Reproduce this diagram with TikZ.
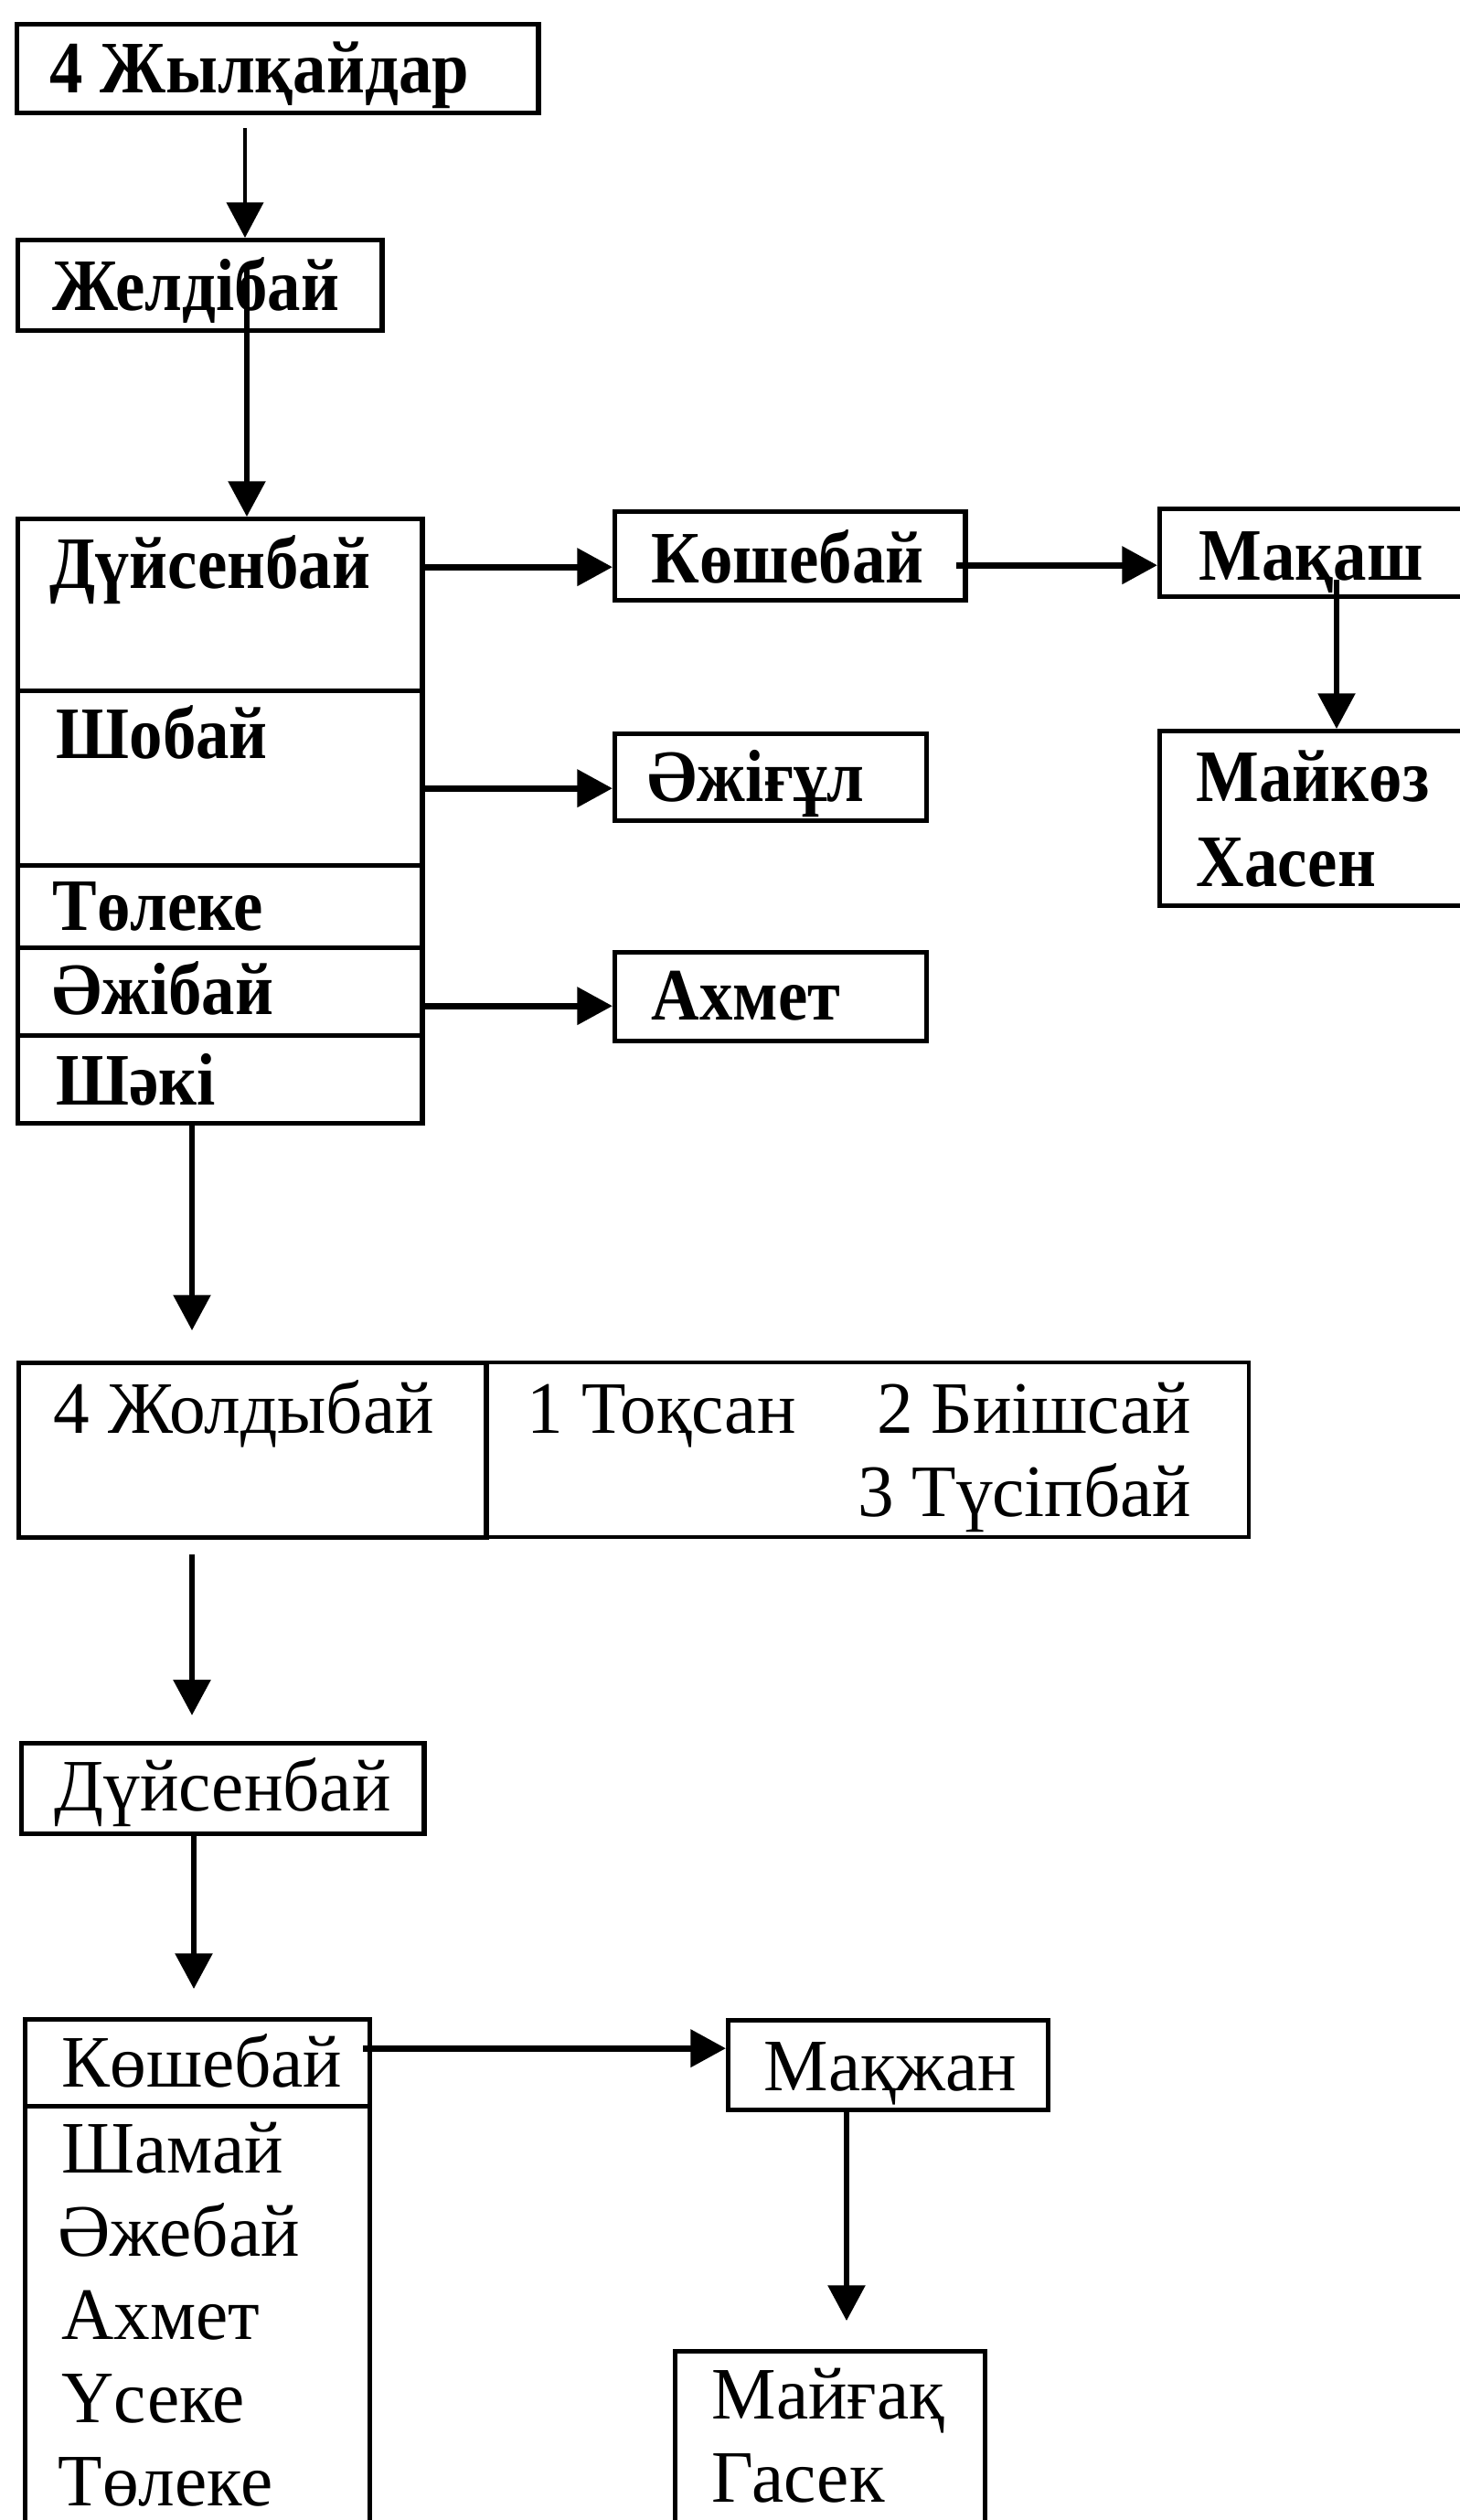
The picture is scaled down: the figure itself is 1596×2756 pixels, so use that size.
\documentclass[tikz,border=0pt]{standalone}
\usepackage{fontspec}
\setmainfont{Liberation Serif}
\newfontfamily\upfont{Liberation Serif}[FakeStretch=0.9]
\newfontfamily\lowfont{Liberation Serif}[FakeStretch=0.98]
\usetikzlibrary{arrows.meta,calc}
\begin{document}
\begin{tikzpicture}[x=0.01cm,y=-0.01cm,
  bx/.style={draw, line width=1.5pt, inner sep=0, anchor=north west},
  ut/.style={anchor=base west, inner sep=0, font=\upfont\bfseries\fontsize{23}{28}\selectfont},
  lt/.style={anchor=base west, inner sep=0, font=\lowfont\fontsize{23}{28}\selectfont},
  ltr/.style={lt, anchor=base east},
  arr/.style={line width=1.5pt, -{Triangle[length=11pt,width=11.4pt]}},
  harr/.style={line width=2pt, -{Triangle[length=11pt,width=11.4pt]}},
]
\useasboundingbox (0,0) rectangle (1596,2756);

% ---- upper part ----
\node[bx, minimum width=5.70cm, minimum height=0.97cm] (jk) at (16,24) {};
\node[ut] (jkt) at (54,101) {4 Жылқайдар};
\node[bx, minimum width=3.98cm, minimum height=0.99cm] (zb) at (17,260) {};
\node[ut] (zbt) at (57,339) {Желдібай};

\node[bx, minimum width=4.42cm, minimum height=1.88cm] (dr1) at (17,565) {};
\node[bx, minimum width=4.42cm, minimum height=1.91cm] (dr2) at (17,753) {};
\node[bx, minimum width=4.42cm, minimum height=0.90cm] (dr3) at (17,944) {};
\node[bx, minimum width=4.42cm, minimum height=0.96cm] (dr4) at (17,1034) {};
\node[bx, minimum width=4.42cm, minimum height=0.96cm] (dr5) at (17,1130) {};
\node[ut] (dr1t) at (54,643) {Дүйсенбай};
\node[ut] (dr2t) at (61,829) {Шобай};
\node[ut] (dr3t) at (57,1017) {Төлеке};
\node[ut] (dr4t) at (57,1109) {Әжібай};
\node[ut] (dr5t) at (61,1208) {Шәкі};

\node[bx, minimum width=3.83cm, minimum height=0.97cm] (kb) at (670,557) {};
\node[ut] (kbt) at (712,637) {Көшебай};
\node[bx, minimum width=3.54cm, minimum height=0.96cm] (mq) at (1266,554) {};
\node[ut] (mqt) at (1311,634) {Мақаш};
\node[bx, minimum width=3.54cm, minimum height=1.91cm] (mz) at (1266,797) {};
\node[ut] (mzt1) at (1308,876) {Майкөз};
\node[ut] (mzt2) at (1308,969) {Хасен};
\node[bx, minimum width=3.41cm, minimum height=0.95cm] (ag) at (670,800) {};
\node[ut] (agt) at (708,876) {Әжіғұл};
\node[bx, minimum width=3.41cm, minimum height=0.97cm] (ah) at (670,1039) {};
\node[ut] (aht) at (712,1115) {Ахмет};

% ---- Жолдыбай ----
\node[bx, minimum width=5.11cm, minimum height=1.91cm] (jl) at (18,1488) {};
\node[bx, minimum width=8.35cm, minimum height=1.91cm, line width=1.1pt] (jr) at (529,1488) {};
\node[lt] (jlt) at (58,1567) {4 Жолдыбай};
\node[lt] (jrt1) at (576,1567) {1 Тоқсан};
\node[ltr] (jrt2) at (1304,1567) {2 Биішсай};
\node[ltr] (jrt3) at (1304,1658) {3 Түсіпбай};

% ---- lower part ----
\node[bx, minimum width=4.40cm, minimum height=0.99cm] (d2) at (21,1904) {};
\node[lt] (d2t) at (59,1980) {Дүйсенбай};
\node[bx, minimum width=3.77cm, minimum height=0.95cm] (k2) at (25,2206) {};
\node[lt] (k2t) at (67,2282) {Көшебай};
\node[bx, minimum width=3.77cm, minimum height=5.00cm] (k2l) at (25,2301) {};
\node[lt] (l1) at (67,2376) {Шамай};
\node[lt] (l2) at (63,2467) {Әжебай};
\node[lt] (l3) at (67,2558) {Ахмет};
\node[lt] (l4) at (67,2649) {Үсеке};
\node[lt] (l5) at (63,2740) {Төлеке};
\node[bx, minimum width=3.50cm, minimum height=0.98cm] (mj) at (794,2207) {};
\node[lt] (mjt) at (835,2286) {Мақжан};
\node[bx, minimum width=3.39cm, minimum height=2.31cm] (mg) at (736,2569) {};
\node[lt] (mgt1) at (778,2645) {Майғақ};
\node[lt] (mgt2) at (778,2736) {Гасек};

% ---- connectors ----
\coordinate (p1) at (268,140);
\draw[arr, line width=1.1pt] (p1) -- (p1 |- zb.north);
\coordinate (p2) at (270,291);
\draw[arr] (p2) -- (p2 |- dr1.north);
\draw[harr] ($(dr1.east |- kb.west)+(0,12)$) -- ($(kb.west)+(0,12)$);
\draw[harr] ($(dr2.east |- ag.west)+(0,12)$) -- ($(ag.west)+(0,12)$);
\draw[harr] ($(dr4.east |- ah.west)+(0,10)$) -- ($(ah.west)+(0,10)$);
\draw[harr] ($(kb.east)+(-13,10)$) -- ($(kb.east -| mq.west)+(0,10)$);
\coordinate (p7) at (1462,634);
\draw[arr] (p7) -- (p7 |- mz.north);
\coordinate (x210) at (210,0);
\draw[arr, shorten >=9.4pt] (dr5.south -| x210) -- (jl.north -| x210);
\draw[arr, shorten <=4.3pt, shorten >=8pt] (jl.south -| x210) -- (d2.north -| x210);
\coordinate (x212) at (212,0);
\draw[arr, shorten >=8.8pt] (d2.south -| x212) -- (k2.north -| x212);
\draw[harr] ($(k2.east)+(-10,-16)$) -- ($(k2.east -| mj.west)+(0,-16)$);
\coordinate (x926) at (926,0);
\draw[arr, shorten >=8.8pt] (mj.south -| x926) -- (mg.north -| x926);
\end{tikzpicture}
\end{document}
